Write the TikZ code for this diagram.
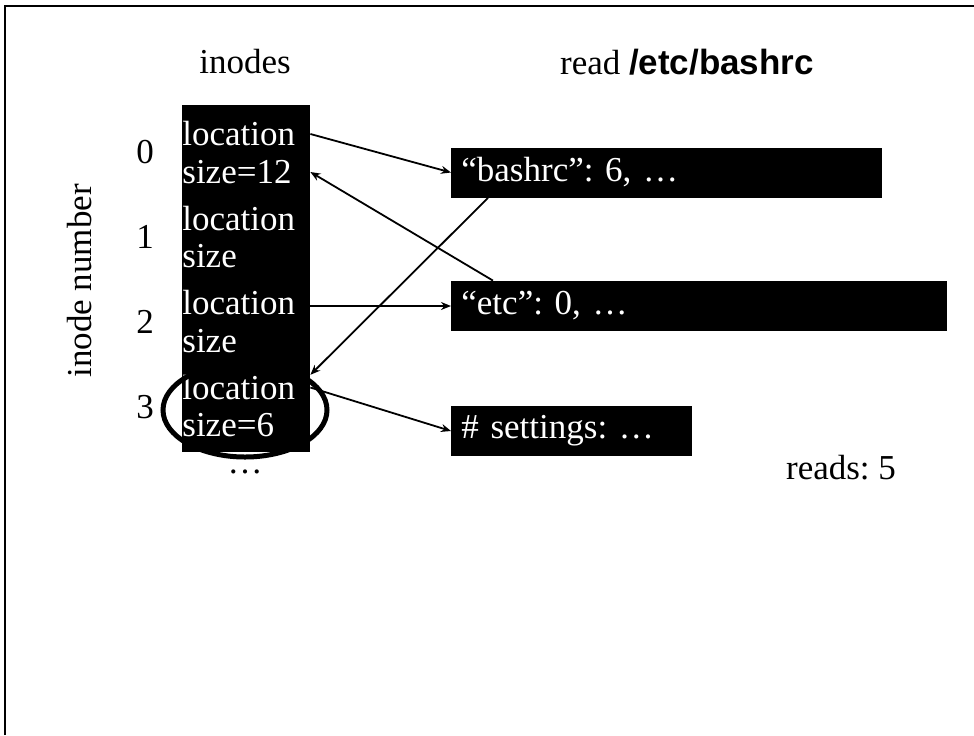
\documentclass[tikz,border=0pt]{standalone}
\usepackage{fontspec}
\setmainfont{Liberation Serif}
\setsansfont{Liberation Sans}
\usetikzlibrary{arrows.meta,positioning,shapes.geometric}
\frenchspacing

\begin{document}
\begin{tikzpicture}[
  x=0.5pt, y=-0.5pt,
  txt/.style={inner sep=0pt, font=\fontsize{17.5pt}{20pt}\selectfont},
  celltxt/.style={txt, text=white, anchor=west},
  block/.style={fill=black, text=white, anchor=west, minimum height=25pt, inner xsep=5pt, align=left, font=\fontsize{17.5pt}{20pt}\selectfont},
  ptr/.style={-{Stealth[length=5pt,width=4pt]}, line width=0.9pt}
]
\useasboundingbox (0,0) rectangle (974,735);
% slide frame (only top and left edges show)
\draw[line width=1pt] (5,735) -- (5,5.5) -- (974,5.5);

\node[txt] (title) at (245,62) {inodes};
\node[txt] (cmd) at (687,62) {read {\sffamily\bfseries /etc/bashrc}};
\node[txt, rotate=90] (axis) at (80,281) {inode number};

% inode table
\node[fill=black, minimum width=64pt, minimum height=173.5pt, inner sep=0pt] (col) at (246,278.5) {};
\foreach \i/\sz in {0/size=12, 1/size, 2/size, 3/size=6} {
  \node[celltxt] (loc\i) at (182,134+84.5*\i) {location};
  \node[celltxt] (size\i) at (182,172+84.5*\i) {\sz};
  \node[txt] (idx\i) at (145,152+85*\i) {\i};
}
\node[txt] (more) at (245,472) {\dots};

% data blocks
\node[block, minimum width=215.5pt, text width=205.5pt] (bashrc) at (451,172.5) {“bashrc”: 6, \dots};
\node[block, minimum width=248pt, text width=238pt] (etc) at (451,306) {“etc”: 0, \dots};
\node[block, minimum width=120.5pt, text width=110.5pt] (settings) at (451,431) {\# settings: \dots};
\node[txt] (reads) at (841,468) {reads: 5};

% highlight on inode 3
\node[draw, ellipse, line width=2.5pt, minimum width=82pt, minimum height=47pt] (hilite) at (245,410) {};

\draw[ptr] (loc0 -| col.east) -- (bashrc.west);
\draw[ptr] ([xshift=21pt]etc.north west) -- (size0 -| col.east);
\draw[ptr] ([xshift=18.5pt]bashrc.south west) -- (loc3.north -| col.east);
\draw[ptr] (etc.west -| col.east) -- (etc.west);
\draw[ptr] (loc3 -| col.east) -- (settings.west);
\end{tikzpicture}
\end{document}
